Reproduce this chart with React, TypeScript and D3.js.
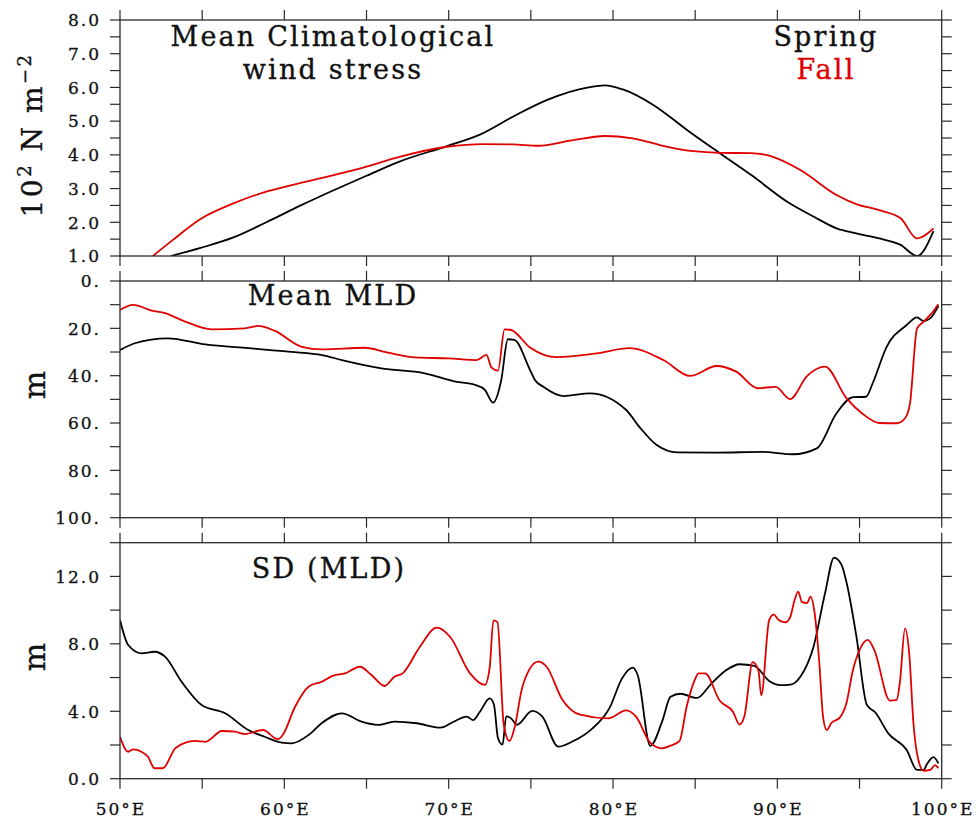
import React from "react";
import * as d3 from "d3";

// Longitude ticks along every panel
const LON_TICKS = [50, 55, 60, 65, 70, 75, 80, 85, 90, 95, 100];
const LON_LABELS = [50, 60, 70, 80, 90, 100];

// Mean climatological wind stress (10^2 N m^-2)
const windSpringLon = [53.1, 54.9, 56.9, 58.9, 61.0, 63.0, 65.0, 67.0, 69.9, 71.9, 73.9, 76.0, 78.5, 79.5, 80.6, 82.45, 84.5, 86.5, 88.5, 90.6, 92.2, 93.6, 94.8, 96.2, 97.5, 98.5, 99.5];
const windSpringVal = [1.0, 1.24, 1.55, 2.0, 2.5, 2.95, 3.38, 3.8, 4.26, 4.6, 5.13, 5.63, 6.0, 6.06, 5.94, 5.48, 4.74, 4.05, 3.37, 2.61, 2.17, 1.82, 1.67, 1.52, 1.33, 1.0, 1.74];
const windFallLon = [52.0, 53.2, 54.9, 56.9, 58.9, 61.0, 63.0, 65.0, 67.0, 69.9, 72.1, 73.9, 75.45, 77.4, 79.5, 81.2, 83.3, 84.9, 86.5, 88.4, 89.55, 91.4, 93.6, 94.8, 96.2, 97.5, 98.5, 99.5];
const windFallVal = [1.0, 1.47, 2.1, 2.56, 2.91, 3.17, 3.40, 3.65, 3.94, 4.24, 4.32, 4.31, 4.27, 4.42, 4.56, 4.49, 4.24, 4.11, 4.06, 4.05, 3.97, 3.55, 2.81, 2.54, 2.36, 2.12, 1.52, 1.82];

// Mean mixed layer depth (m)
const mldSpringLon = [50.0, 50.9, 52.9, 55.2, 57.8, 60.4, 62.3, 63.5, 65.9, 68.55, 70.4, 71.6, 72.2, 72.7, 73.2, 73.6, 74.0, 74.95, 75.25, 75.76, 76.98, 78.6, 80.8, 81.6, 82.66, 83.9, 86.3, 89.1, 90.96, 92.4, 93.6, 94.6, 95.4, 95.8, 96.65, 97.87, 98.5, 98.9, 99.3, 99.8];
const mldSpringVal = [29.2, 26.3, 24.2, 26.8, 28.4, 29.9, 31.3, 33.4, 36.9, 39.0, 42.5, 43.9, 46.0, 51.4, 41.8, 24.6, 24.9, 37.6, 41.8, 44.7, 48.6, 47.5, 54.5, 61.6, 69.3, 72.4, 72.5, 72.2, 73.2, 70.7, 55.9, 49.1, 48.9, 43.2, 27.8, 18.6, 15.4, 16.9, 15.8, 10.5];
const mldFallLon = [50.0, 50.8, 51.93, 52.74, 53.75, 55.6, 57.6, 58.4, 59.4, 61.05, 62.3, 64.9, 66.3, 67.95, 70.0, 71.7, 72.3, 72.6, 73.0, 73.4, 73.8, 74.95, 76.57, 79.0, 81.0, 83.06, 84.7, 86.3, 87.5, 88.8, 89.9, 90.77, 91.8, 92.9, 94.2, 95.2, 96.2, 97.26, 97.77, 98.07, 98.5, 98.9, 99.4, 99.8];
const mldFallVal = [12.25, 10.1, 12.5, 13.6, 16.5, 20.4, 20.0, 19.0, 21.0, 27.8, 28.9, 28.2, 30.3, 32.3, 32.7, 33.4, 31.2, 36.5, 37.9, 20.4, 20.7, 28.1, 32.2, 30.6, 28.4, 33.4, 40.1, 35.9, 38.3, 45.3, 44.7, 49.9, 40.2, 36.2, 49.5, 56.2, 60.0, 60.1, 58.0, 51.7, 20.0, 17.2, 13.6, 9.8];

// Standard deviation of mixed layer depth (m)
const sdSpringLon = [50.0, 50.5, 51.3, 52.1, 52.74, 53.75, 54.97, 56.4, 57.8, 58.8, 59.84, 60.45, 61.47, 62.27, 63.5, 64.7, 65.7, 66.7, 68.05, 69.5, 70.3, 71.1, 71.5, 71.9, 72.5, 72.75, 73.0, 73.28, 73.5, 73.8, 74.15, 75.08, 75.7, 76.67, 77.5, 78.7, 79.8, 80.55, 81.2, 81.5, 82.27, 83.0, 83.5, 84.1, 85.1, 86.0, 86.9, 87.7, 88.6, 89.5, 90.2, 90.8, 91.4, 92.2, 92.9, 93.45, 93.9, 94.2, 94.8, 95.45, 95.95, 96.75, 97.87, 98.5, 98.9, 99.1, 99.5, 99.8];
const sdSpringVal = [9.41, 7.93, 7.44, 7.53, 7.24, 5.75, 4.37, 3.88, 2.89, 2.49, 2.14, 2.10, 2.59, 3.29, 3.88, 3.38, 3.19, 3.38, 3.29, 3.03, 3.38, 3.68, 3.48, 3.97, 4.77, 4.42, 2.40, 2.02, 3.70, 3.58, 3.20, 4.02, 3.68, 1.90, 2.19, 2.94, 4.22, 5.95, 6.59, 6.15, 1.95, 3.43, 4.86, 5.04, 4.79, 5.66, 6.45, 6.79, 6.70, 5.80, 5.55, 5.58, 6.05, 7.83, 11.0, 13.12, 12.7, 11.68, 8.5, 4.37, 3.94, 2.69, 1.70, 0.52, 0.52, 0.86, 1.28, 0.91];
const sdFallLon = [50.0, 50.5, 50.8, 51.3, 51.7, 52.1, 52.6, 53.4, 54.56, 55.2, 56.2, 57.0, 57.6, 58.7, 59.6, 59.9, 60.65, 61.47, 62.27, 62.9, 63.7, 64.6, 65.3, 66.1, 66.7, 67.2, 68.25, 69.27, 70.08, 71.3, 72.2, 72.5, 72.72, 72.97, 73.35, 73.7, 74.0, 74.5, 75.45, 75.96, 76.9, 78.0, 79.7, 80.8, 81.4, 82.25, 82.96, 83.5, 84.05, 84.48, 84.95, 85.2, 85.6, 86.5, 87.3, 87.7, 88.0, 88.5, 88.85, 89.02, 89.5, 89.78, 90.08, 90.47, 90.77, 91.05, 91.27, 91.5, 91.8, 92.02, 92.25, 92.55, 92.78, 93.0, 93.3, 93.8, 94.2, 94.6, 95.0, 95.5, 95.9, 96.85, 97.26, 97.45, 97.77, 98.03, 98.28, 98.58, 98.9, 99.3, 99.6, 99.8];
const sdFallVal = [2.49, 1.60, 1.74, 1.60, 1.30, 0.62, 0.62, 1.84, 2.24, 2.19, 2.83, 2.79, 2.65, 2.89, 2.34, 2.59, 4.27, 5.46, 5.75, 6.09, 6.25, 6.64, 6.15, 5.50, 6.05, 6.25, 7.83, 8.96, 8.42, 6.25, 5.56, 6.64, 9.39, 9.29, 3.2, 2.24, 3.0, 5.5, 6.94, 6.64, 4.72, 3.80, 3.58, 4.05, 3.68, 2.15, 1.80, 1.96, 2.25, 4.27, 5.8, 6.25, 6.25, 4.62, 3.97, 3.21, 3.73, 6.91, 6.4, 4.94, 9.41, 9.73, 9.41, 9.28, 9.56, 10.6, 11.1, 10.47, 10.42, 10.8, 9.95, 6.9, 3.68, 2.89, 3.32, 3.62, 4.47, 6.45, 7.63, 8.23, 7.63, 4.63, 4.67, 5.66, 8.92, 7.34, 3.29, 1.11, 0.47, 0.52, 0.81, 0.62];

// Y-axis ticks and labels
const windMajor = [1, 2, 3, 4, 5, 6, 7, 8];
const windLabels = ["1.0", "2.0", "3.0", "4.0", "5.0", "6.0", "7.0", "8.0"];
const mldMajor = [0, 20, 40, 60, 80, 100];
const mldLabels = ["0.", "20.", "40.", "60.", "80.", "100."];
const sdMajor = [0, 4, 8, 12];
const sdLabels = ["0.0", "4.0", "8.0", "12.0"];

const FONT = "'DejaVu Serif', serif";
const RED = "#e00000";
const FRAME = "#2a2a2a";
const TICK = 10;
const INK = "#111";

const x = d3.scaleLinear().domain([50, 100]).range([120, 941.7]);

type Series = { lon: number[]; val: number[]; color: string };

const labelStyle = {
  fontFamily: FONT,
  fontSize: 17,
  letterSpacing: 2,
  fill: INK,
  stroke: INK,
  strokeWidth: 0.3,
} as const;

function Panel(props: {
  id: string;
  top: number;
  bottom: number;
  domain: [number, number];
  tickStep: number;
  major: number[];
  labels: string[];
  series: Series[];
}) {
  const { id, top, bottom, domain, tickStep, major, labels, series } = props;
  const y = d3.scaleLinear().domain(domain).range([bottom, top]);
  const lo = Math.min(domain[0], domain[1]);
  const hi = Math.max(domain[0], domain[1]);
  const yTicks = d3.range(lo, hi + tickStep / 2, tickStep);
  const line = d3
    .line<[number, number]>()
    .x((d) => x(d[0]))
    .y((d) => y(d[1]))
    .curve(d3.curveMonotoneX);
  const [x0, x1] = x.range();
  return (
    <g>
      <defs>
        <clipPath id={id}>
          <rect x={x0} y={top} width={x1 - x0} height={bottom - top} />
        </clipPath>
      </defs>
      <g clipPath={`url(#${id})`}>
        {series.map((s, i) => (
          <path
            key={i}
            d={line(s.lon.map((l, k) => [l, s.val[k]] as [number, number])) || ""}
            fill="none"
            stroke={s.color}
            strokeWidth={1.8}
            strokeLinejoin="round"
          />
        ))}
      </g>
      <rect x={x0} y={top} width={x1 - x0} height={bottom - top} fill="none" stroke={FRAME} strokeWidth={1.3} />
      {LON_TICKS.map((t) => (
        <g key={t}>
          <line x1={x(t)} x2={x(t)} y1={top} y2={top - TICK} stroke={FRAME} strokeWidth={1.2} />
          <line x1={x(t)} x2={x(t)} y1={bottom} y2={bottom + TICK} stroke={FRAME} strokeWidth={1.2} />
        </g>
      ))}
      {yTicks.map((t) => (
        <g key={t}>
          <line x1={x0} x2={x0 - TICK} y1={y(t)} y2={y(t)} stroke={FRAME} strokeWidth={1.2} />
          <line x1={x1} x2={x1 + TICK} y1={y(t)} y2={y(t)} stroke={FRAME} strokeWidth={1.2} />
        </g>
      ))}
      {major.map((t, i) => (
        <text key={t} x={101} y={y(t) + 6.3} textAnchor="end" {...labelStyle}>
          {labels[i]}
        </text>
      ))}
    </g>
  );
}

export default function App() {
  const titleStyle = {
    fontFamily: FONT,
    fontSize: 27,
    letterSpacing: 2.2,
    stroke: INK,
    strokeWidth: 0.35,
    fill: INK,
  } as const;
  return (
    <svg width={976} height={822} style={{ position: "absolute", left: 0, top: 0, background: "#fff" }}>
      <rect width={976} height={822} fill="#fff" />
      <Panel
        id="clip-wind"
        top={20}
        bottom={256}
        domain={[1, 8]}
        tickStep={0.5}
        major={windMajor}
        labels={windLabels}
        series={[
          { lon: windSpringLon, val: windSpringVal, color: "#000" },
          { lon: windFallLon, val: windFallVal, color: RED },
        ]}
      />
      <Panel
        id="clip-mld"
        top={281}
        bottom={517.7}
        domain={[100, 0]}
        tickStep={10}
        major={mldMajor}
        labels={mldLabels}
        series={[
          { lon: mldSpringLon, val: mldSpringVal, color: "#000" },
          { lon: mldFallLon, val: mldFallVal, color: RED },
        ]}
      />
      <Panel
        id="clip-sd"
        top={542.7}
        bottom={778.7}
        domain={[0, 14]}
        tickStep={2}
        major={sdMajor}
        labels={sdLabels}
        series={[
          { lon: sdSpringLon, val: sdSpringVal, color: "#000" },
          { lon: sdFallLon, val: sdFallVal, color: RED },
        ]}
      />

      {/* Longitude labels */}
      {LON_LABELS.map((l) => (
        <text key={l} x={x(l) + 1} y={815} textAnchor="middle" {...labelStyle}>
          {`${l}°E`}
        </text>
      ))}

      {/* Panel titles */}
      <text x={333} y={45.7} textAnchor="middle" {...titleStyle}>Mean Climatological</text>
      <text x={333} y={79} textAnchor="middle" {...titleStyle}>wind stress</text>
      <text x={826} y={45.7} textAnchor="middle" {...titleStyle}>Spring</text>
      <text x={826} y={79} textAnchor="middle" {...titleStyle} fill={RED} stroke={RED}>Fall</text>
      <text x={333} y={305} textAnchor="middle" {...titleStyle}>Mean MLD</text>
      <text x={329} y={577.7} textAnchor="middle" {...titleStyle}>SD (MLD)</text>

      {/* Y-axis titles */}
      <text transform="translate(42,135) rotate(-90)" textAnchor="middle" {...titleStyle} fontSize={28} letterSpacing={2.5}>
        10<tspan dy={-11} fontSize={18}>2</tspan>
        <tspan dy={11}> N m</tspan>
        <tspan dy={-11} fontSize={18}>−2</tspan>
      </text>
      <text transform="translate(45,385) rotate(-90)" textAnchor="middle" {...titleStyle} fontSize={30} letterSpacing={0}>m</text>
      <text transform="translate(45,657) rotate(-90)" textAnchor="middle" {...titleStyle} fontSize={30} letterSpacing={0}>m</text>
    </svg>
  );
}
